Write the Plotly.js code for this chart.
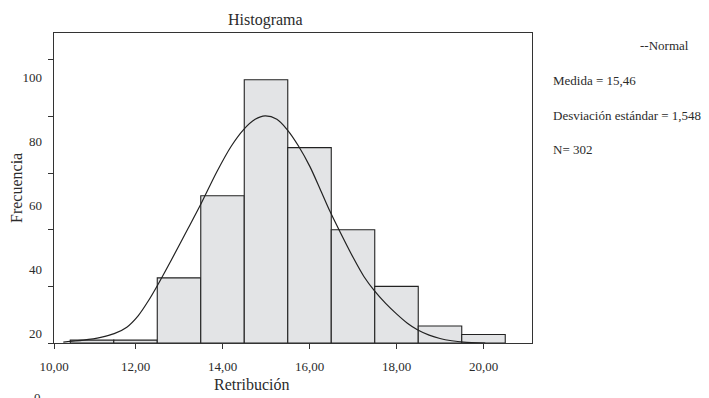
<!DOCTYPE html>
<html>
<head>
<meta charset="utf-8">
<script src="https://cdn.plot.ly/plotly-3.0.1.min.js"></script>
<style>html,body{margin:0;padding:0;background:#fff;}#chart{width:709px;height:398px;}</style>
</head>
<body>
<div id="chart"></div>
<script>
// ---- data ----
const binCenters = [11, 12, 13, 14, 15, 16, 17, 18, 19, 20];
const counts = [1, 1, 23, 52, 93, 69, 40, 20, 6, 3];
const curveX = [10.34, 10.80, 11.20, 11.51, 11.80, 12.06, 12.30, 12.51, 12.83, 13.21, 13.50, 13.87, 14.20, 14.48, 14.75, 14.98, 15.25, 15.49, 15.75, 16.01, 16.24, 16.47, 16.70, 17.01, 17.25, 17.49, 17.75, 18.00, 18.25, 18.49, 18.75, 19.00, 19.27, 19.54, 20.04];
const curveY = [0.3, 1.0, 2.0, 3.3, 5.6, 9.6, 15.0, 20.5, 29.5, 40.5, 49.0, 60.5, 69.5, 75.3, 79.0, 80.2, 79.0, 75.3, 69.5, 62.3, 54.5, 46.5, 39.3, 30.0, 23.5, 18.5, 14.0, 10.3, 7.0, 4.6, 2.8, 1.6, 0.8, 0.3, 0];
const xTickText = ["10,00", "12,00", "14,00", "16,00", "18,00", "20,00"];
const xTickNums = [12, 14, 16, 18, 20];
const yTickVals = [0, 20, 40, 60, 80, 100];
const yLabelVals = [20, 40, 60, 80, 100];
const yLabelText = ["20", "40", "60", "80", "100"];
const statsLines = ["Medida = 15,46", "Desviación estándar = 1,548", "N= 302"];
const curveName = "--Normal";
const titleText = "Histograma";
const xTitle = "Retribución";
const yTitle = "Frecuencia";

// ---- layout settings ----
const xRange = [10.126, 21.115];
const yRange = [0, 109.5];
const y2Range = [16.875, 113.75];
const FONT = "Liberation Serif, Times New Roman, serif";
const INK = "#2b2b2b";

const traces = [
  {
    type: "bar", x: binCenters, y: counts, width: 1,
    marker: {color: "#e3e4e6", line: {color: "#222", width: 1.1}},
    hoverinfo: "skip", showlegend: false
  },
  {
    type: "scatter", mode: "lines", x: curveX, y: curveY,
    line: {color: "#222", width: 1.2, shape: "spline", smoothing: 0.8},
    hoverinfo: "skip", showlegend: false
  },
  {
    type: "scatter", mode: "markers", x: [], y: [], yaxis: "y2",
    showlegend: false, hoverinfo: "skip"
  }
];

const annotations = [
  {text: titleText, xref: "paper", yref: "paper", x: 0.4435, y: 1.042, showarrow: false, xanchor: "center", yanchor: "middle", font: {family: FONT, size: 16, color: INK}},
  {text: xTitle, xref: "paper", yref: "paper", x: 0.414, y: -0.135, showarrow: false, xanchor: "center", yanchor: "middle", font: {family: FONT, size: 16, color: INK}},
  {text: yTitle, xref: "paper", yref: "paper", x: -0.0795, y: 0.5, textangle: -90, showarrow: false, xanchor: "center", yanchor: "middle", font: {family: FONT, size: 16, color: INK}},
  {text: String(yTickVals[0]), xref: "paper", yref: "paper", x: 0, xshift: -11, y: -0.176, showarrow: false, xanchor: "right", yanchor: "middle", font: {family: FONT, size: 13, color: INK}},
  {text: curveName, xref: "paper", yref: "paper", x: 1.3326, y: 0.961, showarrow: false, xanchor: "right", yanchor: "middle", font: {family: FONT, size: 13, color: INK}}
];
const statY = [0.848, 0.735, 0.623];
statsLines.forEach((t, i) => annotations.push({
  text: t, xref: "paper", yref: "paper", x: 1.039, y: statY[i], showarrow: false,
  xanchor: "left", yanchor: "middle", font: {family: FONT, size: 13, color: INK}
}));

const layout = {
  width: 709, height: 398,
  margin: {l: 54, r: 177, t: 33, b: 55, pad: 0},
  paper_bgcolor: "#fff", plot_bgcolor: "#fff",
  showlegend: false,
  font: {family: FONT, size: 13, color: INK},
  xaxis: {
    range: xRange, showgrid: false, zeroline: false,
    showline: true, mirror: true, linecolor: "#333", linewidth: 1.2,
    ticks: "outside", ticklen: 5, tickcolor: "#333", tickwidth: 1,
    tickvals: [xRange[0]].concat(xTickNums), ticktext: xTickText,
    ticklabelstandoff: 6,
    tickfont: {family: FONT, size: 13, color: INK}
  },
  yaxis: {
    range: yRange, showgrid: false, zeroline: false,
    showline: true, mirror: true, linecolor: "#333", linewidth: 1.2,
    ticks: "outside", ticklen: 5, tickcolor: "#333", tickwidth: 1,
    tickvals: yTickVals, showticklabels: false
  },
  yaxis2: {
    overlaying: "y", side: "left", range: y2Range,
    showgrid: false, zeroline: false, showline: false, ticks: "",
    tickvals: yLabelVals, ticktext: yLabelText,
    ticklabelstandoff: 11,
    tickfont: {family: FONT, size: 13, color: INK}
  },
  annotations: annotations
};

Plotly.newPlot("chart", traces, layout, {staticPlot: true, displayModeBar: false});
</script>
</body>
</html>
